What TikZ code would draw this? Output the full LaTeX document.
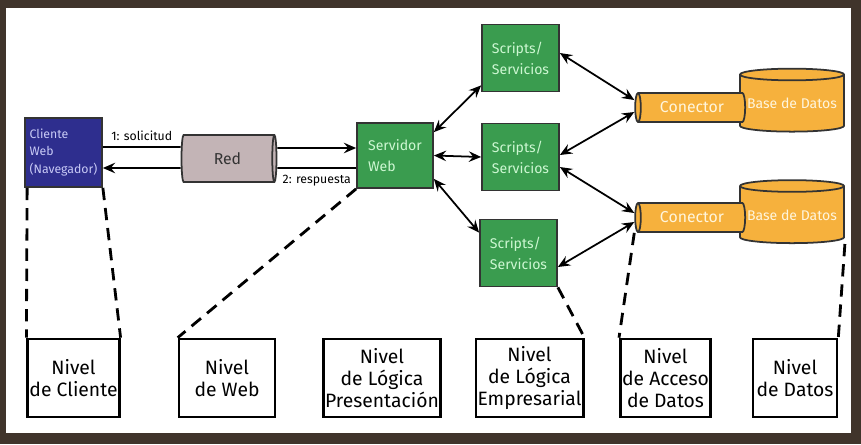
\documentclass[tikz,border=0pt]{standalone}
\usepackage{fontspec}
\setmainfont{Fira Sans}
\usetikzlibrary{shapes.geometric,arrows.meta}

\definecolor{marco}{HTML}{40342B}
\definecolor{azulcli}{HTML}{2E2E8E}
\definecolor{textocli}{HTML}{C8CAF6}
\definecolor{verde}{HTML}{3A9C4F}
\definecolor{textoverde}{HTML}{CDF7D2}
\definecolor{naranja}{HTML}{F6B13D}
\definecolor{textonaranja}{HTML}{FFF5DC}
\definecolor{gris}{HTML}{C3B4B6}

\begin{document}
\begin{tikzpicture}[x=0.02cm,y=-0.02cm,
	>={Stealth[length=7pt,width=6pt,inset=2.5pt]},
	caja/.style={draw=black!80,line width=1pt,minimum width=1.54cm,minimum height=1.34cm,
		fill=verde,text=textoverde,font=\fontsize{8}{12}\selectfont,align=left,inner sep=0pt},
	cilindro/.style={cylinder,draw=black!80,line width=1pt,inner sep=0pt},
	nivel/.style={draw,line width=1.5pt,fill=white,font=\fontsize{11}{12.5}\selectfont,
		align=center,minimum height=1.56cm,inner sep=1pt},
	tramo/.style={line width=1.6pt,dash pattern=on 7pt off 4.5pt},
	flecha/.style={<->,line width=1pt}]
	\fill[marco] (0,0) rectangle (861,444);
	\fill[white] (6,8) rectangle (851,433);

	\node[draw=black!80,line width=1pt,fill=azulcli,text=textocli,minimum width=1.54cm,minimum height=1.38cm,
		font=\fontsize{7}{10}\selectfont,align=left,inner sep=0pt] (cliente) at (63.5,152.5) {Cliente\\Web\\(Navegador)};
	\node[cilindro,fill=gris,minimum height=1.9cm,minimum width=0.94cm,aspect=0.35,
		font=\fontsize{9}{10}\selectfont,text=black!80] (red) at (227.5,158.5) {Red};
	\node[caja,minimum width=1.52cm,minimum height=1.3cm] (servidor) at (395,155.5) {Servidor\\Web};
	\node[caja] (s1) at (520.5,58) {Scripts/\\Servicios};
	\node[caja] (s2) at (520.5,157) {Scripts/\\Servicios};
	\node[caja] (s3) at (518.5,253) {Scripts/\\Servicios};

	\node[cilindro,fill=naranja,shape border rotate=90,minimum width=2.08cm,minimum height=1.26cm,aspect=0.13,
		text=textonaranja,font=\fontsize{8}{9}\selectfont] (db1) at (792,103.5) {Base de Datos};
	\node[cilindro,fill=naranja,shape border rotate=180,minimum height=2.2cm,minimum width=0.58cm,aspect=0.5,
		text=textonaranja,font=\fontsize{9}{10}\selectfont] (con1) at (692,107.5) {Conector};
	\node[cilindro,fill=naranja,shape border rotate=90,minimum width=2.08cm,minimum height=1.26cm,aspect=0.13,
		text=textonaranja,font=\fontsize{8}{9}\selectfont] (db2) at (792,215) {Base de Datos};
	\node[cilindro,fill=naranja,shape border rotate=180,minimum height=2.2cm,minimum width=0.58cm,aspect=0.5,
		text=textonaranja,font=\fontsize{9}{10}\selectfont] (con2) at (692,217.5) {Conector};

	\node[nivel,minimum width=1.82cm] (ncli) at (73.5,378) {Nivel\\de Cliente};
	\node[nivel,minimum width=1.92cm] (nweb) at (227,378) {Nivel\\de Web};
	\node[nivel,minimum width=2.2cm] (npre) at (382,378) {Nivel\\de Lógica\\Presentación};
	\node[nivel,minimum width=1.9cm] (nemp) at (529.5,378) {Nivel\\de Lógica\\Empresarial};
	\node[nivel,minimum width=1.74cm] (nacc) at (665.5,378) {Nivel\\de Acceso\\de Datos};
	\node[nivel,minimum width=1.68cm] (ndat) at (795,378) {Nivel\\de Datos};

	% solicitud y respuesta
	\draw[line width=1pt] ([yshift=0.11cm]cliente.east) -- node[above,font=\fontsize{7}{8}\selectfont] {1: solicitud} ([yshift=0.23cm]red.west);
	\draw[->,line width=1pt] ([yshift=0.21cm]red.east) -- ([yshift=0.15cm]servidor.west);
	\draw[line width=1pt] ([yshift=-0.25cm]servidor.west) -- node[below,font=\fontsize{7}{8}\selectfont] {2: respuesta} ([yshift=-0.19cm]red.east);
	\draw[->,line width=1pt] ([yshift=-0.19cm]red.west) -- ([yshift=-0.31cm]cliente.east);

	\draw[flecha] ([yshift=-0.2cm]servidor.north east) -- ([yshift=0.14cm]s1.south west);
	\draw[flecha] (servidor.east) -- (s2.west);
	\draw[flecha] ([yshift=0.2cm]servidor.south east) -- ([yshift=-0.28cm]s3.north west);

	\draw[flecha] ([yshift=0.1cm]s1.east) -- ([yshift=0.15cm]con1.west);
	\draw[flecha] ([yshift=0.04cm]s2.east) -- ([yshift=-0.09cm]con1.west);
	\draw[flecha] ([yshift=-0.2cm]s2.east) -- ([yshift=0.09cm]con2.west);
	\draw[flecha] ([yshift=-0.28cm]s3.east) -- ([yshift=-0.09cm]con2.west);

	% niveles
	\draw[tramo] ([xshift=0.06cm]cliente.south west) -- (ncli.north west);
	\draw[tramo] (cliente.south east) -- (ncli.north east);
	\draw[tramo] (servidor.south west) -- (nweb.north west);
	\draw[tramo] (s3.south east) -- (nemp.north east);
	\draw[tramo] (con2.south -| con2.west) -- (nacc.north west);
	\draw[tramo] (db2.south -| db2.east) -- (ndat.north east);
\end{tikzpicture}
\end{document}
